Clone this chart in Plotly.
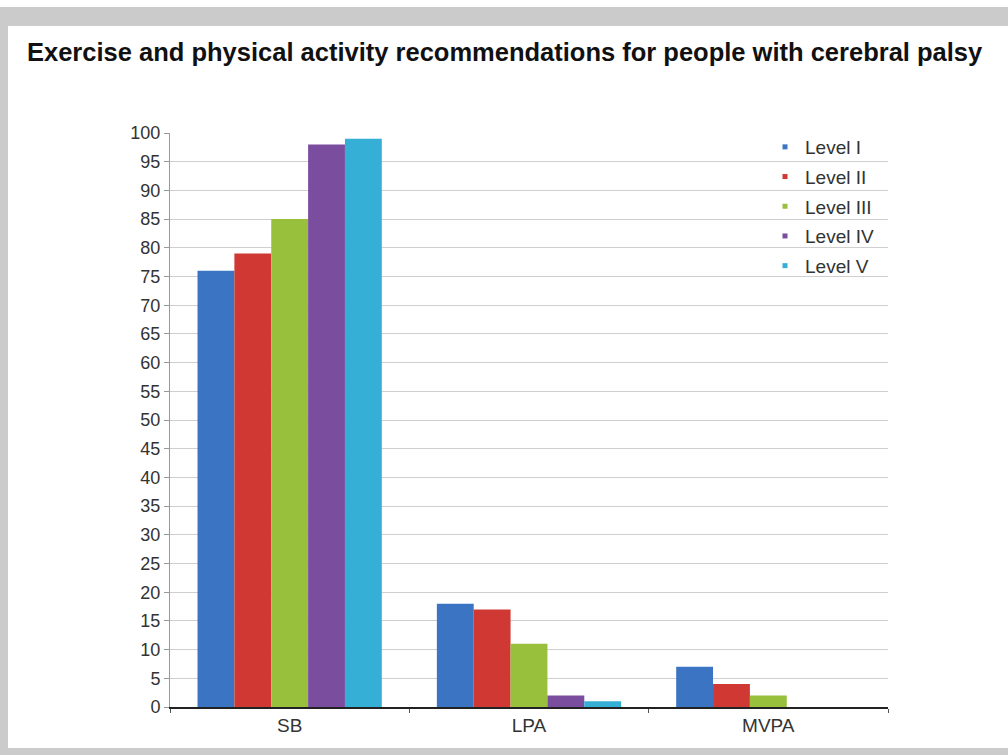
import plotly.graph_objects as go

categories = ["SB", "LPA", "MVPA"]
levels = ["Level I", "Level II", "Level III", "Level IV", "Level V"]
level_i = [76, 18, 7]
level_ii = [79, 17, 4]
level_iii = [85, 11, 2]
level_iv = [98, 2, 0]
level_v = [99, 1, 0]
y_ticks = list(range(0, 101, 5))

series = [level_i, level_ii, level_iii, level_iv, level_v]
colors = ["#3a74c2", "#cf3833", "#98c03c", "#7a4d9e", "#36afd6"]

W, H = 1008, 755
L, R, T, B = 170, 120, 133, 48

fig = go.Figure()
for name, vals, col in zip(levels, series, colors):
    fig.add_trace(go.Bar(x=categories, y=vals, name=name, marker_color=col,
                         marker_line_width=0, showlegend=False))
# legend entries with small square markers
for name, col in zip(levels, colors):
    fig.add_trace(go.Scatter(x=[None], y=[None], mode="markers", name=name,
                             marker=dict(symbol="square", size=5, color=col),
                             legendgroup=name, showlegend=True))

pw, ph = W - L - R, H - T - B
def dx(p):
    return (p - L) / pw
def dy(p):
    return (H - p - B) / ph

grey = "#cbcbcb"
shapes = [
    dict(type="rect", xref="paper", yref="paper", x0=dx(0), x1=dx(W), y0=dy(26), y1=dy(7),
         fillcolor=grey, line_width=0, layer="below"),
    dict(type="rect", xref="paper", yref="paper", x0=dx(0), x1=dx(8), y0=dy(H), y1=dy(7),
         fillcolor=grey, line_width=0, layer="below"),
    dict(type="rect", xref="paper", yref="paper", x0=dx(0), x1=dx(W), y0=dy(H), y1=dy(748),
         fillcolor=grey, line_width=0, layer="below"),
]

fig.update_layout(
    width=W, height=H,
    margin=dict(l=L, r=R, t=T, b=B, pad=0),
    paper_bgcolor="white", plot_bgcolor="white",
    barmode="group", bargap=0.23, bargroupgap=0,
    font=dict(family="Liberation Sans, Arial, sans-serif", size=18, color="#333333"),
    title=dict(text="<b>Exercise and physical activity recommendations for people with cerebral palsy</b>",
               x=27 / W, xanchor="left", xref="container", y=1 - 52 / H, yanchor="middle",
               yref="container", font=dict(size=25.5, color="#111111")),
    shapes=shapes,
    showlegend=True,
    legend=dict(x=dx(765), y=dy(128), xanchor="left", yanchor="top",
                bgcolor="rgba(0,0,0,0)", font=dict(size=19, color="#333333"),
                tracegroupgap=2, itemwidth=30),
    xaxis=dict(showgrid=False, showline=True, linecolor="#222222", linewidth=1.5,
               ticks="outside", tickson="boundaries", ticklen=4, tickcolor="#555555",
               tickfont=dict(size=19, color="#333333"), fixedrange=True),
    yaxis=dict(range=[0, 100], tickvals=y_ticks, showgrid=True, gridcolor="#cfcfcf",
               gridwidth=1, showline=True, linecolor="#999999", linewidth=1,
               ticks="outside", ticklen=5, tickcolor="#999999",
               tickfont=dict(size=18, color="#333333"), zeroline=False),
)

fig.write_html("out.html", config={"displayModeBar": False},
               post_script="document.body.style.margin='0';")
